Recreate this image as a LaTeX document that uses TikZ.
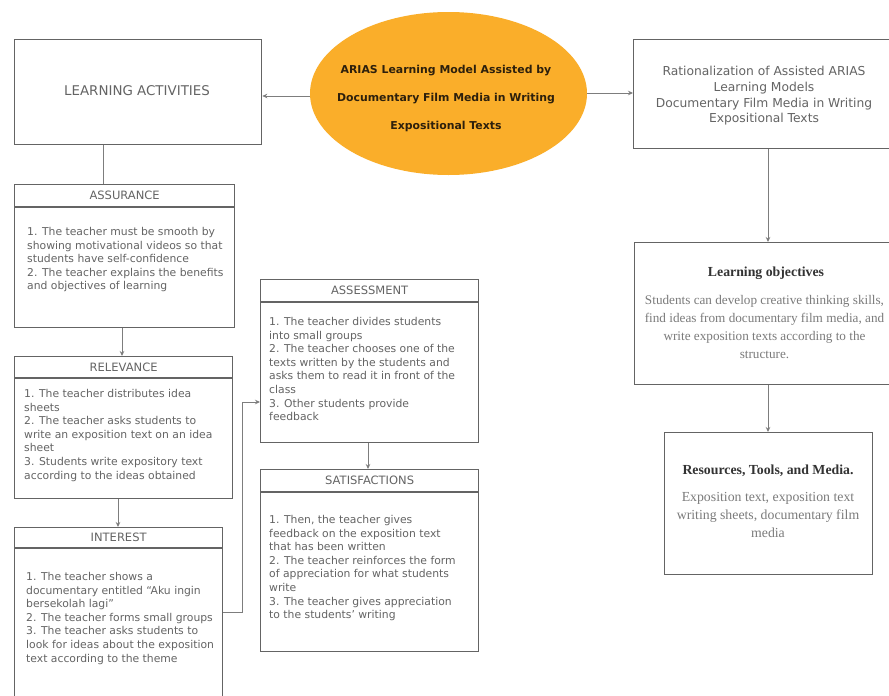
\documentclass[tikz,border=0pt]{standalone}
\usepackage{fontspec}
\setmainfont{DejaVu Sans}
\newfontfamily\serifx{Liberation Serif}
\usetikzlibrary{arrows.meta,shapes.geometric}
\definecolor{orng}{RGB}{250,174,42}
\definecolor{bord}{RGB}{100,100,100}
\definecolor{txt}{RGB}{100,100,100}
\definecolor{conn}{RGB}{125,125,125}
\definecolor{dark}{RGB}{45,32,12}
\begin{document}
\begin{tikzpicture}[x=1pt,y=-1pt,
  box/.style={draw=bord,line width=1.3pt,inner sep=0pt,anchor=north west},
  hdr/.style={text=txt,font=\fontsize{11.5}{12}\selectfont,inner sep=0pt},
  body/.style={text=txt,font=\fontsize{10.8}{13.6}\selectfont,align=left,anchor=north west,inner sep=0pt},
  serifbody/.style={text=txt!85,font=\serifx\fontsize{13.8}{18}\selectfont,align=center,inner sep=0pt},
  seriftitle/.style={text=black!80,font=\serifx\bfseries\fontsize{13.8}{15}\selectfont,inner sep=0pt},
  conn/.style={draw=conn,line width=0.9pt},
  arr/.style={conn,-{Stealth[length=5pt,width=4.5pt]}},
  hline/.style={draw=bord,line width=1.1pt}]
\clip (0,0) rectangle (889,696);
\fill[white] (0,0) rectangle (889,696);

% central ellipse
\node[ellipse,fill=orng,minimum width=277,minimum height=163,inner sep=0pt] (core) at (448.5,93.5) {};
\node[text=dark,font=\bfseries\fontsize{10.9}{28}\selectfont,align=center,inner sep=0pt] (coretxt) at (446,98)
  {ARIAS Learning Model Assisted by\\Documentary Film Media in Writing\\Expositional Texts};

% learning activities
\node[box,minimum width=247,minimum height=105] (la) at (14,39) {};
\node[text=txt,font=\fontsize{13.4}{14}\selectfont,inner sep=0pt] (latxt) at (137,91) {LEARNING ACTIVITIES};

% rationalization
\node[box,minimum width=262,minimum height=109] (rat) at (633,39) {};
\node[text=txt,font=\fontsize{12.3}{15.7}\selectfont,align=center,inner sep=0pt] (rattxt) at (764,96)
  {Rationalization of Assisted ARIAS\\Learning Models\\Documentary Film Media in Writing\\Expositional Texts};

% learning objectives
\node[box,minimum width=262,minimum height=142] (lo) at (634,242) {};
\node[seriftitle] (lotitle) at (766,273) {Learning objectives};
\node[serifbody,font=\serifx\fontsize{13.2}{18}\selectfont,anchor=north] (lobody) at (764.5,295)
  {Students can develop creative thinking skills,\\find ideas from documentary film media, and\\write exposition texts according to the\\structure.};

% resources
\node[box,minimum width=208,minimum height=142] (res) at (664,432) {};
\node[seriftitle] (restitle) at (768,471) {Resources, Tools, and Media.};
\node[serifbody,anchor=north] (resbody) at (768,492)
  {Exposition text, exposition text\\writing sheets, documentary film\\media};

% assurance
\node[box,minimum width=220,minimum height=143] (assur) at (14,184) {};
\draw[hline] ([yshift=-23pt]assur.north west) -- ([yshift=-23pt]assur.north east);
\node[hdr] (assurh) at ([yshift=-11.5pt]assur.north) {ASSURANCE};
\node[body] (assurb) at ([xshift=13pt,yshift=-43pt]assur.north west)
  {1. The teacher must be smooth by\\showing motivational videos so that\\students have self-confidence\\2. The teacher explains the benefits\\and objectives of learning};

% relevance
\node[box,minimum width=218,minimum height=142] (rel) at (14,356) {};
\draw[hline] ([yshift=-22pt]rel.north west) -- ([yshift=-22pt]rel.north east);
\node[hdr] (relh) at ([yshift=-11pt]rel.north) {RELEVANCE};
\node[body] (relb) at ([xshift=10pt,yshift=-33pt]rel.north west)
  {1. The teacher distributes idea\\sheets\\2. The teacher asks students to\\write an exposition text on an idea\\sheet\\3. Students write expository text\\according to the ideas obtained};

% interest
\node[box,minimum width=208,minimum height=180] (int) at (14,527) {};
\draw[hline] ([yshift=-21pt]int.north west) -- ([yshift=-21pt]int.north east);
\node[hdr] (inth) at ([yshift=-10.5pt]int.north) {INTEREST};
\node[body] (intb) at ([xshift=12pt,yshift=-45pt]int.north west)
  {1. The teacher shows a\\documentary entitled “Aku ingin\\bersekolah lagi”\\2. The teacher forms small groups\\3. The teacher asks students to\\look for ideas about the exposition\\text according to the theme};

% assessment
\node[box,minimum width=218,minimum height=163] (assess) at (260,279) {};
\draw[hline] ([yshift=-23pt]assess.north west) -- ([yshift=-23pt]assess.north east);
\node[hdr] (assessh) at ([yshift=-11.5pt]assess.north) {ASSESSMENT};
\node[body] (assessb) at ([xshift=9pt,yshift=-38pt]assess.north west)
  {1. The teacher divides students\\into small groups\\2. The teacher chooses one of the\\texts written by the students and\\asks them to read it in front of the\\class\\3. Other students provide\\feedback};

% satisfactions
\node[box,minimum width=218,minimum height=182] (satis) at (260,469) {};
\draw[hline] ([yshift=-23pt]satis.north west) -- ([yshift=-23pt]satis.north east);
\node[hdr] (satish) at ([yshift=-11.5pt]satis.north) {SATISFACTIONS};
\node[body] (satisb) at ([xshift=9pt,yshift=-46pt]satis.north west)
  {1. Then, the teacher gives\\feedback on the exposition text\\that has been written\\2. The teacher reinforces the form\\of appreciation for what students\\write\\3. The teacher gives appreciation\\to the students' writing};

% connector helper coordinates
\coordinate (ly) at (0,96);
\coordinate (ry) at (0,93);
\coordinate (xa) at (103,0);
\coordinate (xb) at (122,0);
\coordinate (xc) at (118,0);
\coordinate (xd) at (368,0);
\coordinate (xe) at (768,0);
\coordinate (k1) at (242,612);
\coordinate (k2) at (242,402);

% connectors
\draw[arr] (core.west |- ly) -- (la.east |- ly);
\draw[arr] (core.east |- ry) -- (rat.west |- ry);
\draw[conn] (la.south -| xa) -- (assur.north -| xa);
\draw[arr] (assur.south -| xb) -- (rel.north -| xb);
\draw[arr] (rel.south -| xc) -- (int.north -| xc);
\draw[arr] (int.east |- k1) -- (k1) -- (k2) -- (assess.west |- k2);
\draw[arr] (assess.south -| xd) -- (satis.north -| xd);
\draw[arr] (rat.south -| xe) -- (lo.north -| xe);
\draw[arr] (lo.south -| xe) -- (res.north -| xe);
\end{tikzpicture}
\end{document}
